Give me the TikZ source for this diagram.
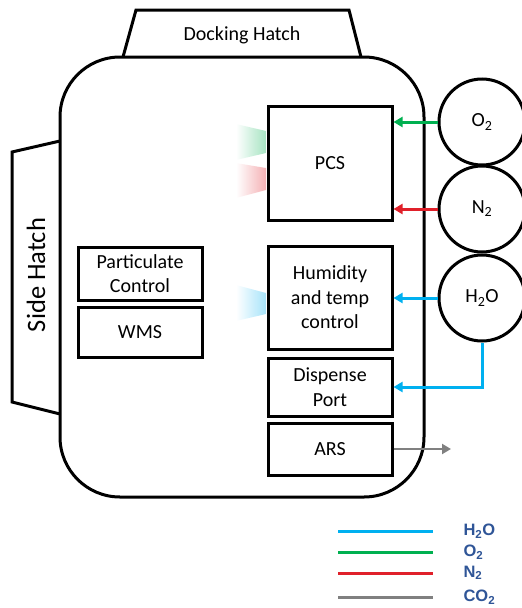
\documentclass[tikz,border=0pt]{standalone}
\usepackage{fontspec}
\setmainfont{Carlito}
\newfontfamily\legendfont{Liberation Sans}
\usepackage{tikz}
\usetikzlibrary{arrows.meta, positioning, calc}
\definecolor{h2o-blue}{HTML}{00B0F0}
\definecolor{o2-green}{HTML}{00B050}
\definecolor{n2-red}{HTML}{E0202A}
\definecolor{co2-grey}{HTML}{808080}
\definecolor{legend-blue}{HTML}{2F5597}

\begin{document}
\begin{tikzpicture}[x=1pt, y=-1pt,
    every node/.style={font=\fontsize{20}{24.5}\selectfont},
    unit/.style={draw, line width=3pt, fill=white, align=center, inner sep=0pt, minimum width=124pt},
    tank/.style={draw, circle, line width=3pt, fill=white, minimum size=86pt, inner sep=0pt},
    hatch/.style={draw, line width=3pt, fill=white},
    feed/.style={-{Triangle[length=9pt, width=10pt]}, line width=3pt},
    key/.style={line width=3pt},
    keylabel/.style={anchor=west, text=legend-blue, font=\legendfont\bfseries\fontsize{16.5}{17}\selectfont}
]
    \useasboundingbox (0,0) rectangle (522,608);

    % hatches
    \draw[hatch] (123,57) -- (136,10) -- (349,10) -- (361,57);
    \draw[hatch] (60,141) -- (12,152) -- (12,402) -- (60,414);
    \node (dock) at (242,35) {Docking Hatch};
    \node (side) [rotate=90, font=\fontsize{26.5}{28}\selectfont] at (36,275) {Side Hatch};

    \node (cabin) [draw, line width=3pt, rounded corners=60pt, minimum width=364pt, minimum height=440pt, inner sep=0pt] at (242,277) {};

    % vents into the cabin
    \shade[left color=white, right color=o2-green!35!white] (236,124) -- (266,131) -- (266,153) -- (236,160) -- cycle;
    \shade[left color=white, right color=n2-red!35!white] (236,163) -- (266,168) -- (266,190) -- (236,198) -- cycle;
    \shade[left color=white, right color=h2o-blue!35!white] (236,285) -- (266,293) -- (266,314) -- (236,321) -- cycle;

    \node (pcs) [unit, minimum height=114pt] at (330,163) {PCS};
    \node (humid) [unit, minimum height=103pt, below=23pt of pcs] {Humidity\\and temp\\control};
    \node (dispense) [unit, minimum height=58pt, below=6pt of humid] {Dispense\\Port};
    \node (ars) [unit, minimum height=52pt, below=4pt of dispense] {ARS};

    \node (particulate) [unit, minimum height=53pt] at (140,273.5) {Particulate\\Control};
    \node (wms) [unit, minimum height=50pt, below=4pt of particulate] {WMS};

    \node (o2) [tank] at (482,122) {O\textsubscript{2}};
    \node (n2) [tank] at (482,209) {N\textsubscript{2}};
    \node (h2o) [tank] at (482,298) {H\textsubscript{2}O};

    \draw[feed, o2-green] (o2) -- (o2 -| pcs.east);
    \draw[feed, n2-red] (n2) -- (n2 -| pcs.east);
    \draw[feed, h2o-blue] (h2o) -- (h2o -| humid.east);
    \draw[feed, h2o-blue] (h2o.south) |- (dispense);
    \coordinate (vent) at (451,449);
    \draw[feed, co2-grey, line width=2.5pt] (ars) -- (vent);

    % legend
    \foreach \y/\c/\t [count=\n] in {531/h2o-blue/H\textsubscript{2}O, 552/o2-green/O\textsubscript{2}, 573/n2-red/N\textsubscript{2}, 597/co2-grey/CO\textsubscript{2}} {
        \node (key-\n) [keylabel] at (460,\y) {\t};
        \draw[key, \c] (338,\y) -- (433,\y);
    }
\end{tikzpicture}
\end{document}
